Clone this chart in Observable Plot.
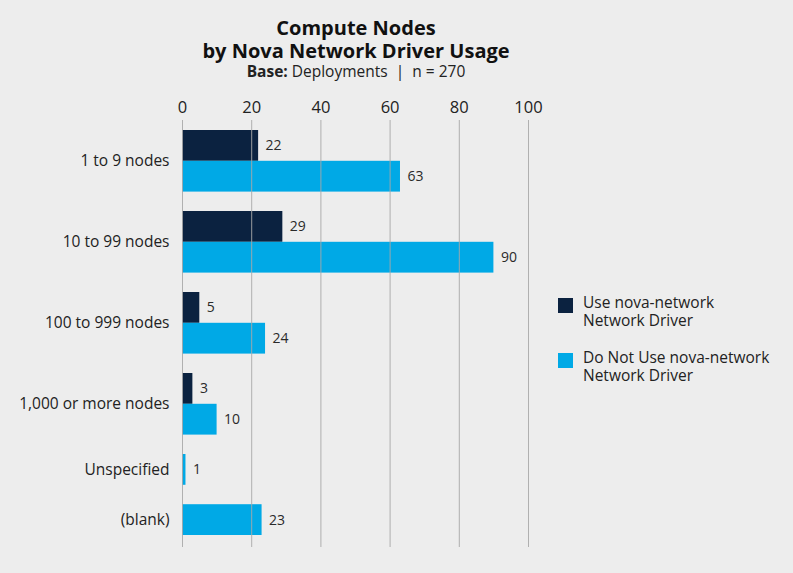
<!DOCTYPE html>
<html>
<head>
<meta charset="utf-8">
<script src="https://cdn.jsdelivr.net/npm/d3@7"></script>
<script src="https://cdn.jsdelivr.net/npm/@observablehq/plot@0.6"></script>
<style>
  html, body { margin: 0; padding: 0; background: #ededed; }
  body { width: 793px; height: 573px; position: relative; overflow: hidden; font-family: "Open Sans", sans-serif; color: #1e1e1e; }
  #header { position: relative; height: 86px; }
  .t { position: absolute; left: 0; width: 712px; text-align: center; white-space: nowrap; }
  .title { font-size: 20px; line-height: 23px; font-weight: 700; color: #111; }
  .sub { font-size: 15.5px; line-height: 18px; color: #222; }
  #legend { position: absolute; left: 558px; top: 0; font-size: 15.5px; line-height: 18px; color: #222; }
  .li { position: absolute; left: 0; white-space: nowrap; }
  .sw { position: absolute; left: 0; width: 15px; height: 15px; }
  .lt { position: absolute; left: 25px; top: 0; }
</style>
</head>
<body>
<div id="header">
  <div class="t title" style="top:15.7px">Compute Nodes</div>
  <div class="t title" style="top:38.7px">by Nova Network Driver Usage</div>
  <div class="t sub" style="top:62.4px"><b>Base:</b> Deployments &nbsp;|&nbsp; n = 270</div>
</div>
<div id="chart"></div>
<div id="legend"></div>
<script>
const categories = ["1 to 9 nodes", "10 to 99 nodes", "100 to 999 nodes", "1,000 or more nodes", "Unspecified", "(blank)"];
const useNova = [22, 29, 5, 3, null, null];
const notUseNova = [63, 90, 24, 10, 1, 23];
const seriesNames = ["Use nova-network Network Driver", "Do Not Use nova-network Network Driver"];
const seriesLines = [["Use nova-network", "Network Driver"], ["Do Not Use nova-network", "Network Driver"]];
const seriesColors = ["#0b2240", "#00a9e6"];
const xTicks = [0, 20, 40, 60, 80, 100];

// layout bands: each bar one unit tall, groups separated by a gap
const GAP = 0.63;
const rows = [];
const centers = [];
let pos = 0;
categories.forEach((cat, i) => {
  const start = pos;
  [useNova[i], notUseNova[i]].forEach((v, s) => {
    if (v == null) return;
    rows.push({category: cat, series: seriesNames[s], value: v, y1: pos, y2: pos + 1});
    pos += 1;
  });
  centers.push({category: cat, y: (start + pos) / 2});
  pos += GAP;
});
const total = pos - GAP;
const labelOf = new Map(centers.map(c => [c.y, c.category]));

const chart = Plot.plot({
  width: 793,
  height: 487,
  marginLeft: 182,
  marginRight: 265,
  marginTop: 34,
  marginBottom: 26,
  style: {background: "transparent", fontFamily: "Open Sans, sans-serif"},
  x: {domain: [0, 100]},
  y: {type: "linear", domain: [0, total], range: [44, 449]},
  color: {domain: seriesNames, range: seriesColors},
  marks: [
    Plot.rect(rows, {x1: d => 0, x2: "value", y1: "y1", y2: "y2", fill: "series"}),
    Plot.ruleX(xTicks, {stroke: "#a8a8a8", strokeWidth: 1, strokeOpacity: 0.9}),
    Plot.text(rows, {x: "value", y: d => (d.y1 + d.y2) / 2, text: d => String(d.value), dx: 7, textAnchor: "start", fontSize: 14, fill: "#2a2a2a"}),
    Plot.axisX(xTicks, {anchor: "top", tickSize: 0, tickPadding: 8, fontSize: 16.5, color: "#222", label: null}),
    Plot.axisY(centers.map(c => c.y), {anchor: "left", tickSize: 0, tickPadding: 13, fontSize: 15.5, color: "#222", tickFormat: d => labelOf.get(d), label: null})
  ]
});
document.getElementById("chart").appendChild(chart);

// legend
const legend = document.getElementById("legend");
const legendTops = [292.5, 347.5];
seriesNames.forEach((name, i) => {
  const item = document.createElement("div");
  item.className = "li";
  item.style.top = legendTops[i] + "px";
  const sw = document.createElement("div");
  sw.className = "sw";
  sw.style.background = seriesColors[i];
  sw.style.top = "5.5px";
  const lt = document.createElement("div");
  lt.className = "lt";
  lt.innerHTML = seriesLines[i].join("<br>");
  item.appendChild(sw);
  item.appendChild(lt);
  legend.appendChild(item);
});
</script>
</body>
</html>
